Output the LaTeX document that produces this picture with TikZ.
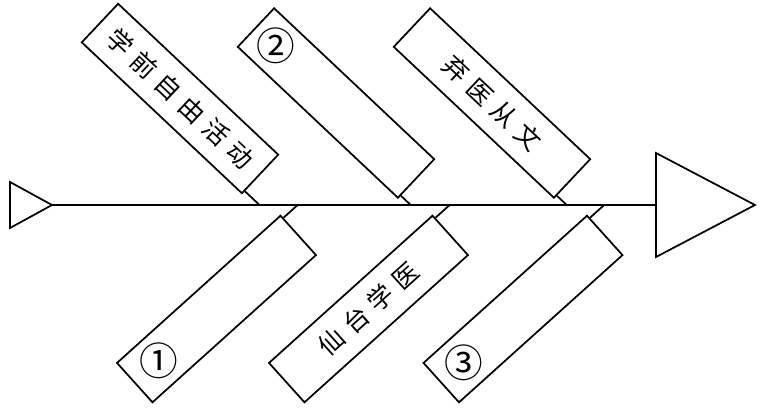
\documentclass[tikz,border=0pt]{standalone}
\usepackage{fontspec}
\newfontfamily\cjk[LetterSpace=30]{Noto Sans CJK SC}
\newfontfamily\cjknum{Noto Sans CJK SC}
\usetikzlibrary{calc}
\begin{document}
\begin{tikzpicture}[x=0.75pt,y=-0.75pt, line width=1.3pt,
  fbox/.style={draw, line width=1.3pt, minimum width=165pt, minimum height=39.75pt,
    inner sep=0pt, font=\cjk\fontsize{19}{22}\selectfont},
  upbox/.style={fbox, rotate=-43.3},
  lowbox/.style={fbox, rotate=42},
  numlbl/.style={font=\cjknum\fontsize{29}{31}\selectfont, inner sep=0pt}]
\useasboundingbox (0,0) rectangle (760,408);
% spine
\coordinate (L) at (52,205);
\coordinate (R) at (656,205);
\coordinate (la) at (10,182);
\coordinate (lb) at (10,228);
\coordinate (ra) at (656,153);
\coordinate (rb) at (656,257);
\coordinate (rt) at (755,205);
\draw[line join=miter] (la) -- (L) -- (lb) -- cycle;
\draw[line join=miter] (ra) -- (rt) -- (rb) -- cycle;
\draw (L) -- (R);
% boxes
\node[upbox] (u1) at (180,98.5) {学前自由活动};
\node[upbox] (u2) at (336,103) {};
\node[upbox] (u3) at (492,103) {弃医从文};
\node[lowbox] (d1) at (216.5,309) {};
\node[lowbox] (d2) at (368.5,309) {仙台学医};
\node[lowbox] (d3) at (523,309) {};
% circled numbers
\node[numlbl] (n2) at ($(u2.west)!0.125!(u2.east)$) {②};
\node[numlbl] (n1) at ($(d1.west)!0.15!(d1.east)$) {①};
\node[numlbl] (n3) at ($(d3.west)!0.14!(d3.east)$) {③};
% stubs
\foreach \b in {u1,u2,u3}{
  \coordinate (\b s) at ($(\b.south east)!0.08!(\b.north east)$);
  \coordinate (\b d) at ($(\b s)+(\b.east)-(\b.west)$);
  \draw (\b s) -- (intersection of \b s--\b d and L--R);
}
\foreach \b in {d1,d2,d3}{
  \coordinate (\b s) at ($(\b.north east)!0.08!(\b.south east)$);
  \coordinate (\b d) at ($(\b s)+(\b.east)-(\b.west)$);
  \draw (\b s) -- (intersection of \b s--\b d and L--R);
}
\end{tikzpicture}
\end{document}
